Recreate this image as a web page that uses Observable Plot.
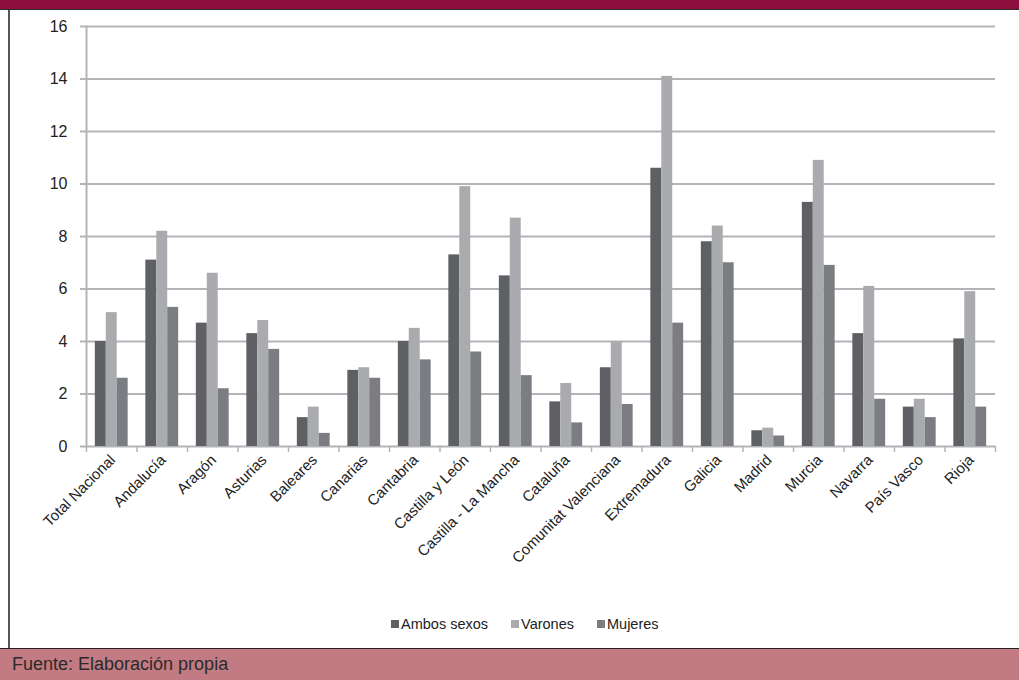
<!DOCTYPE html>
<html>
<head>
<meta charset="utf-8">
<script src="https://cdn.jsdelivr.net/npm/d3@7"></script>
<script src="https://cdn.jsdelivr.net/npm/@observablehq/plot@0.6"></script>
<style>
  body { margin:0; width:1019px; height:680px; overflow:hidden; background:#fff; position:relative; font-family:"Liberation Sans", Arial, sans-serif; }
  #top { position:absolute; left:0; top:0; width:1019px; height:9px; background:#8c0f3c; border-bottom:1.5px solid #2b2b2b; }
  #lb { position:absolute; left:8px; top:10px; width:1.5px; height:638px; background:#555; }
  #chart { position:absolute; left:0; top:0; }
  #legend { position:absolute; top:616px; left:391px; color:#222; white-space:nowrap; display:flex; gap:23px; font-size:14.5px; }
  #legend span.sw { display:inline-block; width:8px; height:8px; margin-right:2px; vertical-align:1px; }
  #foot { position:absolute; left:0; top:648px; width:1019px; height:32px; background:#c27b82; border-top:1.5px solid #222; }
  #foot div { position:absolute; left:12px; top:5px; font-size:18px; color:#2a2a2a; }
</style>
</head>
<body>
<div id="top"></div>
<div id="lb"></div>
<div id="chart"></div>
<div id="legend"></div>
<div id="foot"><div>Fuente: Elaboración propia</div></div>
<script>
const regions = ["Total Nacional","Andalucía","Aragón","Asturias","Baleares","Canarias","Cantabria","Castilla y León","Castilla - La Mancha","Cataluña","Comunitat Valenciana","Extremadura","Galicia","Madrid","Murcia","Navarra","País Vasco","Rioja"];
const ambos   = [4.0, 7.1, 4.7, 4.3, 1.1, 2.9, 4.0, 7.3, 6.5, 1.7, 3.0, 10.6, 7.8, 0.6, 9.3, 4.3, 1.5, 4.1];
const varones = [5.1, 8.2, 6.6, 4.8, 1.5, 3.0, 4.5, 9.9, 8.7, 2.4, 4.0, 14.1, 8.4, 0.7, 10.9, 6.1, 1.8, 5.9];
const mujeres = [2.6, 5.3, 2.2, 3.7, 0.5, 2.6, 3.3, 3.6, 2.7, 0.9, 1.6, 4.7, 7.0, 0.4, 6.9, 1.8, 1.1, 1.5];
const series = ["Ambos sexos","Varones","Mujeres"];
const colors = ["#5f6064","#a9abae","#7c7d82"];
const yTicks = [0,2,4,6,8,10,12,14,16];

const values = [ambos, varones, mujeres];

const W = 1019, H = 600, ML = 86, MR = 24, MT = 26, MB = 154;
const step = (W - ML - MR) / regions.length;   // band width of each region
const groupPad = 0.175 * step;                 // outer gap on each side of a group
const barW = 0.65 * step / series.length;      // width of one bar
const font = '"Liberation Sans",Arial,sans-serif';
const grid = "#b3b4b7";

const barMarks = series.map((s,k) => Plot.barY(
  regions.map((r,i) => ({region:r, serie:s, value:values[k][i]})),
  {x: "region", y: "value", fill: "serie",
   insetLeft: groupPad + k*barW, insetRight: step - groupPad - (k+1)*barW}
));

const chart = Plot.plot({
  width: W, height: H,
  marginLeft: ML, marginRight: MR, marginTop: MT, marginBottom: MB,
  style: {fontFamily: font, fontSize: "15px", color: "#222", background: "transparent"},
  x: {domain: regions, padding: 0, round: false, label: null},
  y: {domain: [0,16], label: null},
  color: {domain: series, range: colors},
  marks: [
    Plot.ruleY(yTicks, {stroke: grid, strokeWidth: 2, insetLeft: -6}),
    Plot.frame({anchor: "left", stroke: grid, strokeWidth: 2}),
    Plot.axisY({ticks: yTicks, tickSize: 0, tickPadding: 19, fontSize: 16, fill: "#222", label: null}),
    ...barMarks,
    Plot.axisX({tickSize: 0, tickRotate: -45, tickPadding: 11, dx: 1, fontSize: 15, fill: "#222", label: null}),
    Plot.axisX({tickSize: 6, text: null, dx: -step/2, stroke: grid, strokeWidth: 1.5, label: null}),
    Plot.axisX([regions[regions.length-1]], {tickSize: 6, text: null, dx: step/2, stroke: grid, strokeWidth: 1.5, label: null})
  ]
});
document.getElementById("chart").appendChild(chart);

const lg = document.getElementById("legend");
series.forEach((s,k) => {
  const it = document.createElement("div");
  it.innerHTML = `<span class="sw" style="background:${colors[k]}"></span>${s}`;
  lg.appendChild(it);
});
</script>
</body>
</html>
